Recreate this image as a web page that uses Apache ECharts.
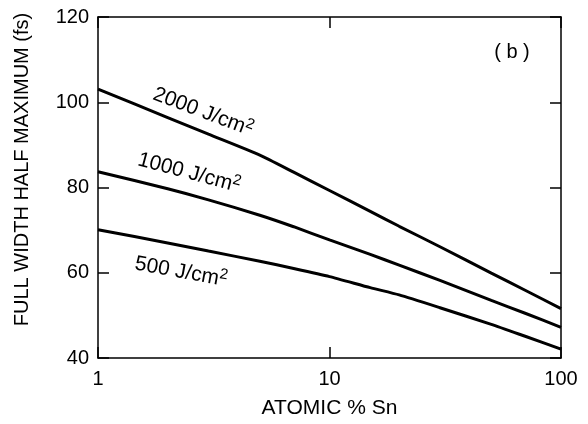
<!DOCTYPE html>
<html>
<head>
<meta charset="utf-8">
<script src="https://cdn.jsdelivr.net/npm/echarts@6/dist/echarts.min.js"></script>
<style>
  html, body { margin: 0; padding: 0; background: #fff; }
  #chart { width: 588px; height: 424px; }
</style>
</head>
<body>
<div id="chart"></div>
<script>
// atomic % Sn (log axis)
const xValues = [1, 2, 3, 5, 7, 10, 15, 20, 30, 50, 70, 100];
// FWHM (fs) for each fluence
const fwhm2000 = [103.1, 96.4, 92.5, 87.6, 83.6, 79.3, 74.4, 70.9, 66.1, 59.9, 55.9, 51.6];
const fwhm1000 = [83.7, 79.7, 77.1, 73.5, 70.8, 67.7, 64.3, 61.8, 58.2, 53.5, 50.5, 47.2];
const fwhm500 = [70.1, 67.0, 65.1, 62.7, 61.0, 59.1, 56.5, 54.8, 51.8, 47.9, 45.1, 42.1];
const yTicks = [40, 60, 80, 100, 120];

const font = 'Liberation Sans, Helvetica, Arial, sans-serif';
const chart = echarts.init(document.getElementById('chart'));

const pairs = ys => xValues.map((x, i) => [x, ys[i]]);
const lineSeries = (name, ys) => ({
  name,
  type: 'line',
  data: pairs(ys),
  smooth: 0.2,
  symbol: 'none',
  lineStyle: { color: '#000', width: 3 }
});

const axisCommon = {
  axisLine: { show: true, lineStyle: { color: '#000', width: 1.5 } },
  axisTick: { show: true, inside: true, length: 11, lineStyle: { color: '#000', width: 1.5 } },
  splitLine: { show: false },
  minorTick: { show: false }
};

// curve labels, rotated along the lines
const label = (text, x, y, rot) => ({
  type: 'text',
  x, y,
  rotation: rot,
  style: {
    text,
    fontSize: 21,
    fontFamily: font,
    fill: '#000',
    align: 'center',
    verticalAlign: 'middle',
    rich: {
      s: { fontSize: 15, fontFamily: font, padding: [0, 0, 10, 0] }
    }
  }
});

chart.setOption({
  animation: false,
  backgroundColor: '#fff',
  grid: { left: 98, right: 27, top: 17, bottom: 61 },
  xAxis: [
    Object.assign({
      type: 'log', logBase: 10, min: 1, max: 100,
      name: 'ATOMIC % Sn', nameLocation: 'middle', nameGap: 40,
      nameTextStyle: { color: '#000', fontSize: 21, fontFamily: font },
      axisLabel: { color: '#000', fontSize: 20, fontFamily: font, margin: 11 }
    }, axisCommon),
    Object.assign({
      type: 'log', logBase: 10, min: 1, max: 100, position: 'top',
      axisLabel: { show: false }
    }, axisCommon)
  ],
  yAxis: [
    Object.assign({
      type: 'value', min: yTicks[0], max: yTicks[yTicks.length - 1], interval: 20,
      name: 'FULL WIDTH HALF MAXIMUM (fs)', nameLocation: 'middle', nameGap: 66, nameRotate: 90,
      nameTextStyle: { color: '#000', fontSize: 20, fontFamily: font, padding: [0, 0, 0, 36] },
      axisLabel: { color: '#000', fontSize: 20, fontFamily: font, margin: 9 }
    }, axisCommon),
    Object.assign({
      type: 'value', min: yTicks[0], max: yTicks[yTicks.length - 1], interval: 20, position: 'right',
      axisLabel: { show: false }
    }, axisCommon)
  ],
  series: [
    lineSeries('2000 J/cm2', fwhm2000),
    lineSeries('1000 J/cm2', fwhm1000),
    lineSeries('500 J/cm2', fwhm500)
  ],
  graphic: [
    label('2000 J/cm{s|2}', 203, 112, -0.36),
    label('1000 J/cm{s|2}', 189, 173, -0.26),
    label('500 J/cm{s|2}', 181, 272, -0.18),
    {
      type: 'text', x: 512, y: 52,
      style: { text: '( b )', fontSize: 20, fontFamily: font, fill: '#000', align: 'center', verticalAlign: 'middle' }
    }
  ]
});
</script>
</body>
</html>
